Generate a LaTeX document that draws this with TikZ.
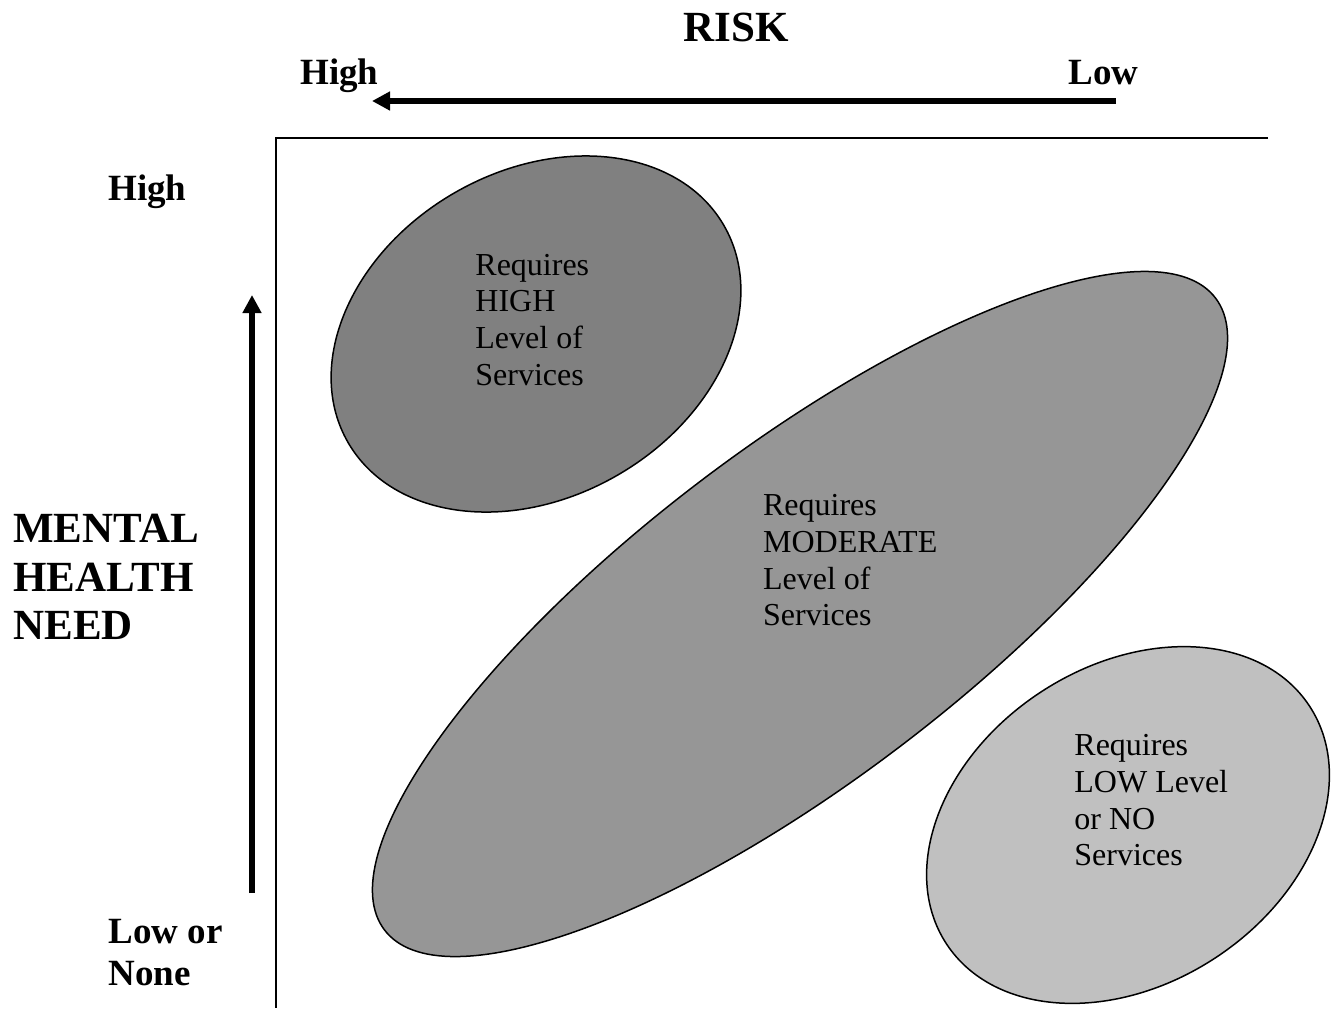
\documentclass[tikz,border=0pt]{standalone}
\usepackage{fontspec}
\setmainfont{Liberation Serif}
\usetikzlibrary{arrows.meta,shapes.geometric}

\definecolor{zoneHigh}{RGB}{128,128,128}
\definecolor{zoneMid}{RGB}{150,150,150}
\definecolor{zoneLow}{RGB}{192,192,192}

\begin{document}
\begin{tikzpicture}[
  x=0.5pt, y=-0.5pt,
  zone/.style={ellipse, draw=black, line width=0.75pt, inner sep=0pt},
  zonetext/.style={anchor=north west, align=left, inner sep=0pt,
    font=\fontsize{16}{18.35}\selectfont, execute at begin node=\strut},
  axislabel/.style={inner sep=0pt, font=\bfseries\fontsize{18.5}{21}\selectfont},
  biglabel/.style={inner sep=0pt, font=\bfseries\fontsize{21.5}{24.25}\selectfont},
  thickarrow/.style={line width=2.75pt, -{Triangle[length=9pt,width=9pt]}},
  axisline/.style={line width=1pt}
]
\useasboundingbox (0,0) rectangle (1338,1008);

% service zones
\node[zone, fill=zoneHigh, minimum width=217pt, minimum height=163pt, rotate=30] (zhigh) at (536,334) {};
\node[zone, fill=zoneMid, minimum width=522pt, minimum height=166pt, rotate=37.25] (zmid) at (800,614) {};
\node[zone, fill=zoneLow, minimum width=217pt, minimum height=159pt, rotate=33.2] (zlow) at (1128,825) {};

% zone captions
\node[zonetext] (thigh) at (475,253.5) {Requires\\HIGH\\Level of\\Services};
\node[zonetext] (tmid) at (762.7,494.2) {Requires\\MODERATE\\Level of\\Services};
\node[zonetext] (tlow) at (1074,734.2) {Requires\\LOW Level\\or NO\\Services};

% axes
\coordinate (axisRight) at (1268,138);
\coordinate (axisCorner) at (276,138);
\coordinate (axisBottom) at (276,1008);
\draw[axisline] (axisRight) -- (axisCorner) -- (axisBottom);

% risk direction
\coordinate (riskLowEnd) at (1116,101);
\coordinate (riskHighEnd) at (372,101);
\draw[thickarrow] (riskLowEnd) -- (riskHighEnd);

% need direction
\coordinate (needLowEnd) at (252,893);
\coordinate (needHighEnd) at (252,295);
\draw[thickarrow] (needLowEnd) -- (needHighEnd);

% axis titles and ends
\node[biglabel, anchor=base] (risk) at (736,41) {RISK};
\node[axislabel, anchor=base west] (riskHigh) at (300,84) {High};
\node[axislabel, anchor=base west] (riskLow) at (1068,84) {Low};
\node[axislabel, anchor=base west] (needHigh) at (108,200) {High};
\node[biglabel, anchor=north west, align=left, execute at begin node=\strut] (need) at (13,514) {MENTAL\\HEALTH\\NEED};
\node[axislabel, anchor=north west, align=left, execute at begin node=\strut] (needLow) at (108,918.5) {Low or\\None};
\end{tikzpicture}
\end{document}
